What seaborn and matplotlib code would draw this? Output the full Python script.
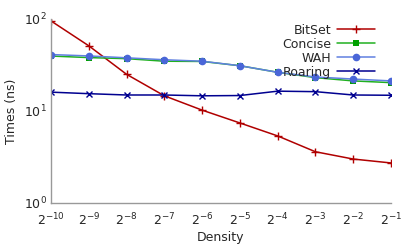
import numpy as np
import pandas as pd
import matplotlib
matplotlib.use('Agg')
import matplotlib.pyplot as plt
import seaborn as sns

# density exponents (2^k)
exps = [-10, -9, -8, -7, -6, -5, -4, -3, -2, -1]
bitset = [95, 51, 25, 14.6, 10.2, 7.4, 5.35, 3.6, 3.0, 2.72]
concise = [39.5, 38, 37, 34.7, 34.5, 31, 26.3, 23, 21.2, 20.3]
wah = [41, 39.6, 37.8, 36, 34.7, 31, 26.3, 23.4, 22.2, 21.2]
roaring = [16, 15.4, 14.9, 14.9, 14.6, 14.7, 16.4, 16.2, 14.9, 14.8]
names = ['BitSet', 'Concise', 'WAH', 'Roaring']
series = [bitset, concise, wah, roaring]

density = [2.0 ** e for e in exps]

sns.set_style('white')
plt.rcParams['font.family'] = ['DejaVu Sans']

line_cols = {'BitSet': '#b00000', 'Concise': '#20b020', 'WAH': '#6080e0', 'Roaring': '#000090'}
mark_cols = {'BitSet': '#b00000', 'Concise': '#00a000', 'WAH': '#4a66d8', 'Roaring': '#000090'}
markers = {'BitSet': '+', 'Concise': 's', 'WAH': 'o', 'Roaring': 'x'}
msize = {'BitSet': 6, 'Concise': 4.5, 'WAH': 5.5, 'Roaring': 5}


def style_line(line, lab):
    line.set_linestyle('-')
    line.set_linewidth(1.1)
    line.set_color(line_cols[lab])
    line.set_marker(markers[lab])
    line.set_markersize(msize[lab])
    line.set_markeredgecolor(mark_cols[lab])
    line.set_markerfacecolor(mark_cols[lab])
    line.set_markeredgewidth(1.0 if lab in ('BitSet', 'Roaring') else 0)


fig, ax = plt.subplots(figsize=(4.15, 2.49), dpi=100)
fig.subplots_adjust(left=0.123, right=0.942, bottom=0.185, top=0.924)

for lab, vals in zip(names, series):
    sns.lineplot(x=density, y=vals, ax=ax, color=line_cols[lab], label=lab)
for line, lab in zip(ax.lines, names):
    style_line(line, lab)

ax.set_xscale('log', base=2)
ax.set_yscale('log')
ax.set_xlim(density[0], density[-1])
ax.set_ylim(1, 100)
ax.set_xticks(density)
ax.set_xticklabels([f'$2^{{{e}}}$' for e in exps])
ax.minorticks_on()
ax.xaxis.set_minor_locator(matplotlib.ticker.NullLocator())
ax.set_yticks([1, 10, 100])
ax.set_yticklabels(['$10^{0}$', '$10^{1}$', '$10^{2}$'])

for s in ['top', 'right']:
    ax.spines[s].set_visible(False)
for s in ['left', 'bottom']:
    ax.spines[s].set_color('#999999')
    ax.spines[s].set_linewidth(1)
ax.tick_params(which='both', direction='in', color='#999999', labelsize=9)
ax.tick_params(axis='x', pad=6)
ax.tick_params(axis='y', pad=3)
ax.tick_params(which='major', length=5)
ax.tick_params(which='minor', length=3)

ax.set_xlabel('Density', fontsize=9, labelpad=2)
ax.set_ylabel('Times (ns)', fontsize=9, labelpad=4)

leg = ax.legend(loc='upper right', bbox_to_anchor=(0.975, 1.015), frameon=False, markerfirst=False,
                fontsize=9, handlelength=3.0, labelspacing=0.08, handletextpad=0.5, borderaxespad=0.2)
for h, lab in zip(leg.legend_handles, names):
    style_line(h, lab)

fig.savefig('out.png', dpi=100)
